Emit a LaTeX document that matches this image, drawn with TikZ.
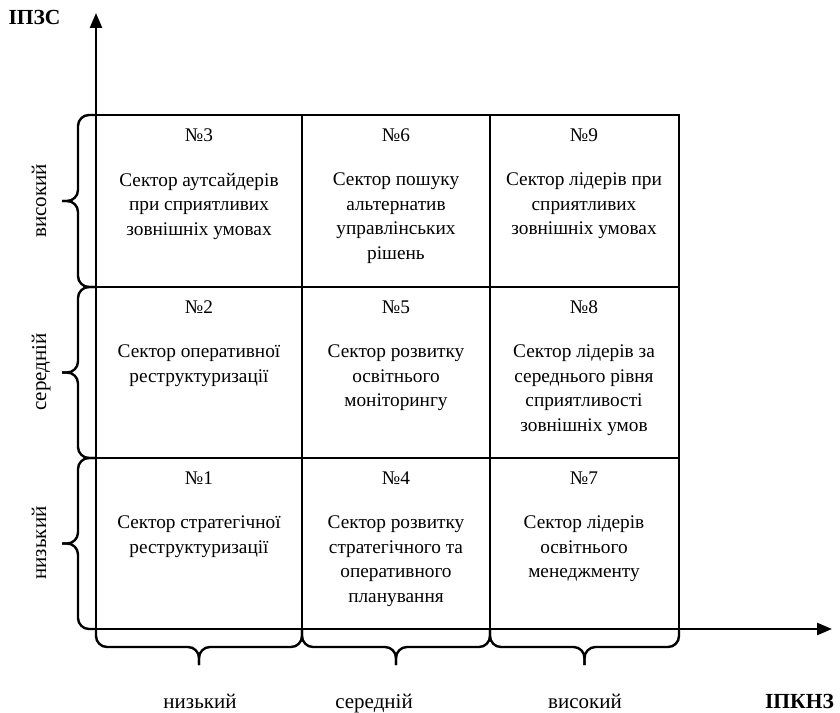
\documentclass[tikz,border=0pt]{standalone}
\usepackage{fontspec}
\setmainfont{Liberation Serif}
\usetikzlibrary{arrows.meta,positioning}
\tikzset
{
    axis/.style      = {line width=2.6pt, ->, >={Triangle[length=15pt,width=12pt]}},
    gridline/.style  = {line width=1.4pt},
    curly/.style     = {line width=2.4pt, rounded corners=11pt},
    number/.style    = {inner sep=0pt, font=\fontsize{19.3}{24}\selectfont},
    sector/.style    = {anchor=north, align=center, inner sep=0pt, font=\fontsize{19.3}{24.5}\selectfont},
    level/.style     = {anchor=base, inner sep=0pt, font=\fontsize{21}{24}\selectfont},
    axislabel/.style = {anchor=base, inner sep=0pt, font=\fontsize{21.5}{24}\selectfont\bfseries}
}

\begin{document}
\begin{tikzpicture}[x=1pt, y=1pt]
\useasboundingbox (0,0) rectangle (840,712);
\newcommand\textShift{38}
\newcommand\lowBrace[2]{%
  \draw[curly] (#1,83) -- (#1,65) -- ({(#1+#2)/2},65) -- ({(#1+#2)/2},47);
  \draw[curly] (#2,83) -- (#2,65) -- ({(#1+#2)/2},65) -- ({(#1+#2)/2},47);}
\newcommand\sideBrace[2]{%
  \draw[curly] (96,#1) -- (78,#1) -- (78,{(#1+#2)/2}) -- (62,{(#1+#2)/2});
  \draw[curly] (96,#2) -- (78,#2) -- (78,{(#1+#2)/2}) -- (62,{(#1+#2)/2});}
% grid
\draw[gridline] (96,597) -- (679,597) -- (679,83);
\draw[gridline] (96,425) -- (679,425);
\draw[gridline] (96,254) -- (679,254);
\draw[gridline] (302,83) -- (302,597);
\draw[gridline] (490,83) -- (490,597);
% axes
\coordinate (o) at (96,83);
\coordinate (ytip) at (96,699);
\coordinate (xtip) at (832,83);
\draw[axis] (o) -- (ytip);
\draw[axis] (o) -- (xtip);
\node(ylabel) [axislabel] at (34.5,687) {ІПЗС};
\node(xlabel) [axislabel] at (799.5,4) {ІПКНЗ};
% braces
\lowBrace{96}{302}
\lowBrace{302}{490}
\lowBrace{490}{679}
\sideBrace{597}{425}
\sideBrace{425}{254}
\sideBrace{254}{83}
\node(lowx) [level] at (200,4) {низький};
\node(midx) [level] at (374,4) {середній};
\node(highx) [level] at (585,4) {високий};
\node(lowy) [level, rotate=90] at (46,169) {низький};
\node(midy) [level, rotate=90] at (46,340) {середній};
\node(highy) [level, rotate=90] at (46,511) {високий};
% sectors
\node(n3) [number] at (199,577) {№3};
\node(s3) [sector] at ([shift=({0,-\textShift})]n3) {Сектор аутсайдерів\\при сприятливих\\зовнішніх умовах};
\node(n2) [number] at (199,405) {№2};
\node(s2) [sector] at ([shift=({0,-\textShift})]n2) {Сектор оперативної\\реструктуризації};
\node(n1) [number] at (199,234) {№1};
\node(s1) [sector] at ([shift=({0,-\textShift})]n1) {Сектор стратегічної\\реструктуризації};
\node(n6) [number] at (396,577) {№6};
\node(s6) [sector] at ([shift=({0,-\textShift})]n6) {Сектор пошуку\\альтернатив\\управлінських\\рішень};
\node(n5) [number] at (396,405) {№5};
\node(s5) [sector] at ([shift=({0,-\textShift})]n5) {Сектор розвитку\\освітнього\\моніторингу};
\node(n4) [number] at (396,234) {№4};
\node(s4) [sector] at ([shift=({0,-\textShift})]n4) {Сектор розвитку\\стратегічного та\\оперативного\\планування};
\node(n9) [number] at (584,577) {№9};
\node(s9) [sector] at ([shift=({0,-\textShift})]n9) {Сектор лідерів при\\сприятливих\\зовнішніх умовах};
\node(n8) [number] at (584,405) {№8};
\node(s8) [sector] at ([shift=({0,-\textShift})]n8) {Сектор лідерів за\\середнього рівня\\сприятливості\\зовнішніх умов};
\node(n7) [number] at (584,234) {№7};
\node(s7) [sector] at ([shift=({0,-\textShift})]n7) {Сектор лідерів\\освітнього\\менеджменту};
\end{tikzpicture}
\end{document}
